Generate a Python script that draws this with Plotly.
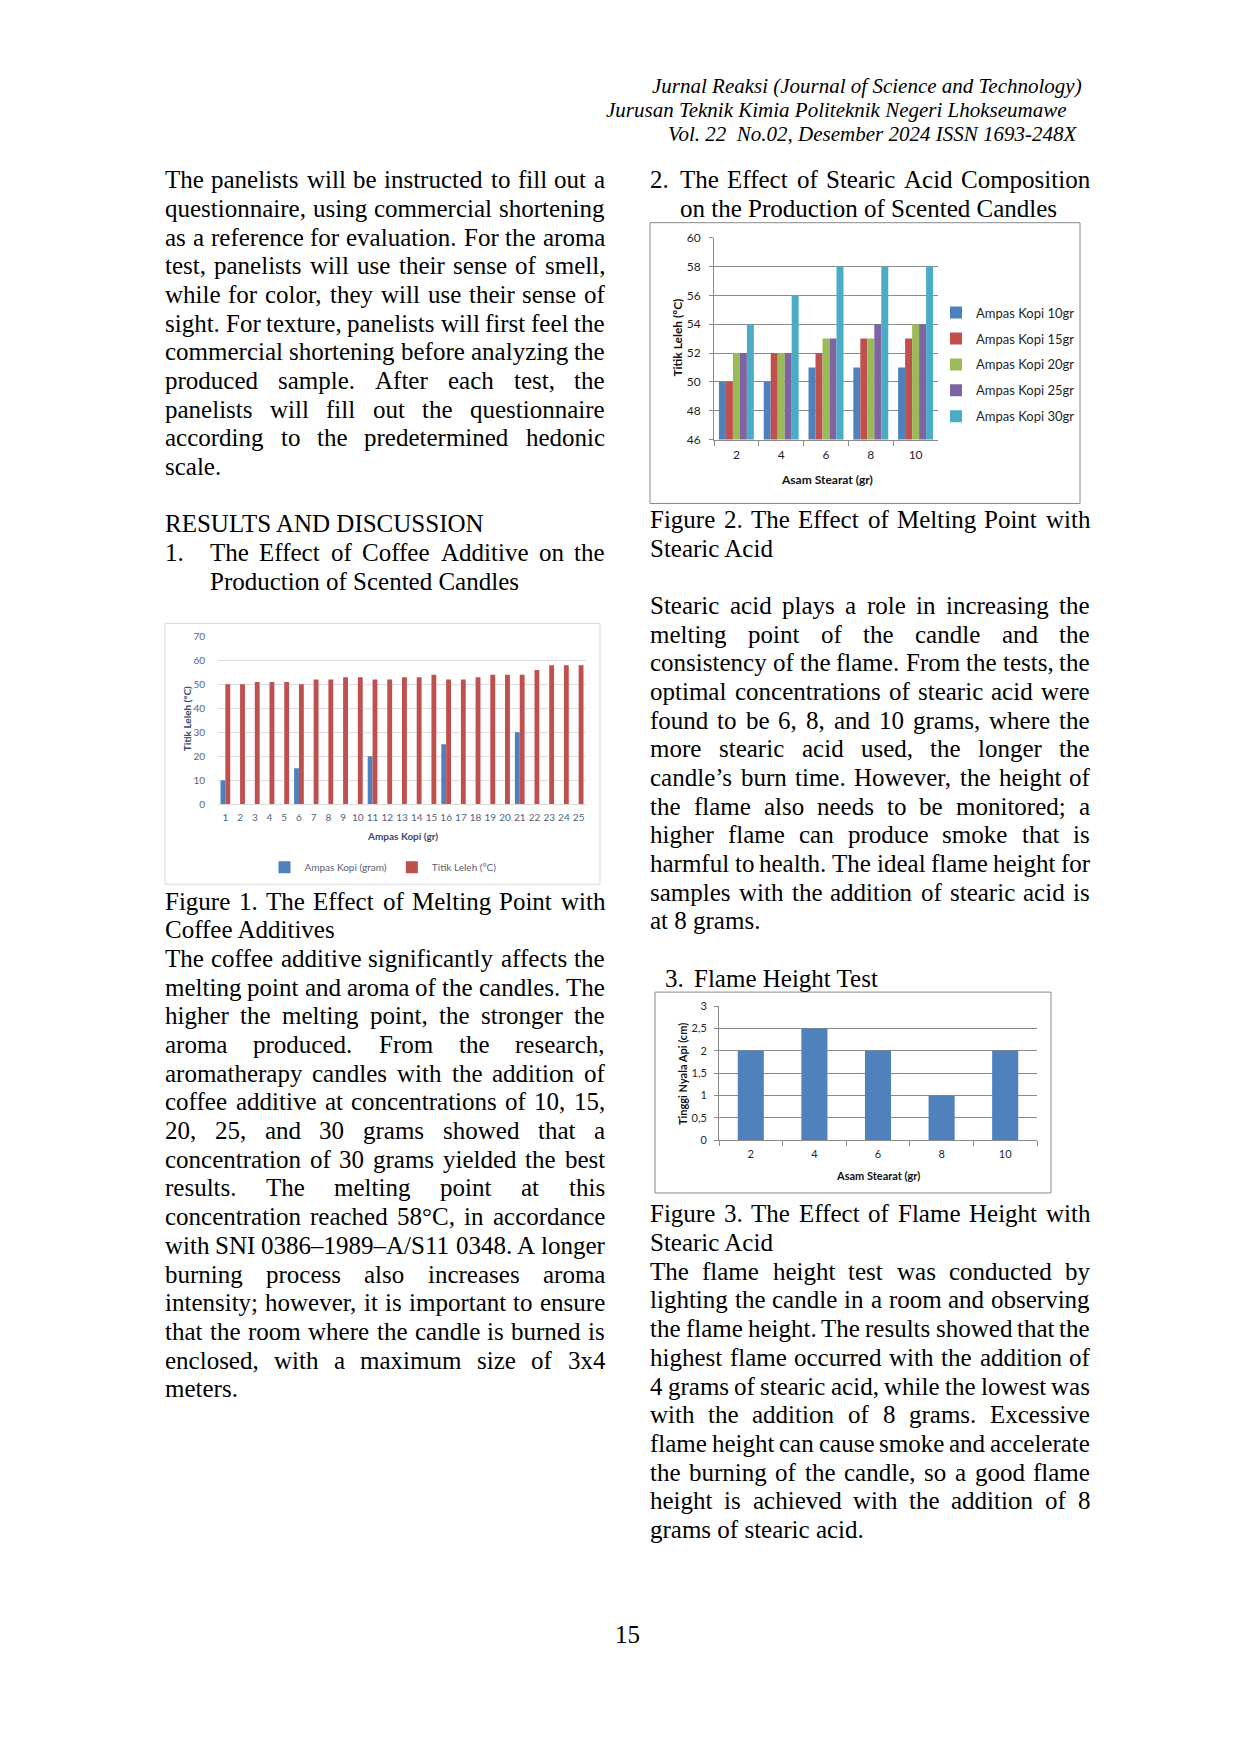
import plotly.graph_objects as go

W, H = 1241, 1753

# ---------------- data ----------------
fig1_categories = list(range(1, 26))
fig1_kopi_positions = [1, 6, 11, 16, 21]
fig1_kopi_gram = [10, 15, 20, 25, 30]
fig1_titik_leleh = [50, 50, 51, 51, 51, 50, 52, 52, 53, 53, 52, 52, 53, 53, 54,
                    52, 52, 53, 54, 54, 54, 56, 58, 58, 58]
fig1_yticks = [0, 10, 20, 30, 40, 50, 60, 70]

fig2_asam_stearat = [2, 4, 6, 8, 10]
fig2_names = ["Ampas Kopi 10gr", "Ampas Kopi 15gr", "Ampas Kopi 20gr",
              "Ampas Kopi 25gr", "Ampas Kopi 30gr"]
fig2_kopi_10 = [50, 50, 51, 51, 51]
fig2_kopi_15 = [50, 52, 52, 53, 53]
fig2_kopi_20 = [52, 52, 53, 53, 54]
fig2_kopi_25 = [52, 52, 53, 54, 54]
fig2_kopi_30 = [54, 56, 58, 58, 58]
fig2_yticks = [46, 48, 50, 52, 54, 56, 58, 60]

fig3_asam_stearat = [2, 4, 6, 8, 10]
fig3_tinggi_nyala = [2, 2.5, 2, 1, 2]
fig3_ytick_vals = [0, 0.5, 1, 1.5, 2, 2.5, 3]
fig3_ytick_text = ["0", "0,5", "1", "1,5", "2", "2,5", "3"]

# ---------------- text ----------------
header_lines = ["Jurnal Reaksi (Journal of Science and Technology)",
                "Jurusan Teknik Kimia Politeknik Negeri Lhokseumawe\u00a0",
                "Vol. 22\u00a0\u00a0No.02, Desember 2024 ISSN 1693-248X"]

left_block_a = [
    ("The panelists will be instructed to fill out a", True),
    ("questionnaire, using commercial shortening", True),
    ("as a reference for evaluation. For the aroma", True),
    ("test, panelists will use their sense of smell,", True),
    ("while for color, they will use their sense of", True),
    ("sight. For texture, panelists will first feel the", True),
    ("commercial shortening before analyzing the", True),
    ("produced sample. After each test, the", True),
    ("panelists will fill out the questionnaire", True),
    ("according to the predetermined hedonic", True),
    ("scale.", False),
    ("", False),
    ("RESULTS AND DISCUSSION", False),
]
heading1 = ["The Effect of Coffee Additive on the", "Production of Scented Candles"]

left_block_b = [
    ("Figure 1. The Effect of Melting Point with", True),
    ("Coffee Additives", False),
    ("The coffee additive significantly affects the", True),
    ("melting point and aroma of the candles. The", True),
    ("higher the melting point, the stronger the", True),
    ("aroma produced. From the research,", True),
    ("aromatherapy candles with the addition of", True),
    ("coffee additive at concentrations of 10, 15,", True),
    ("20, 25, and 30 grams showed that a", True),
    ("concentration of 30 grams yielded the best", True),
    ("results. The melting point at this", True),
    ("concentration reached 58°C, in accordance", True),
    ("with SNI 0386–1989–A/S11 0348. A longer", True),
    ("burning process also increases aroma", True),
    ("intensity; however, it is important to ensure", True),
    ("that the room where the candle is burned is", True),
    ("enclosed, with a maximum size of 3x4", True),
    ("meters.", False),
]

heading2 = ["The Effect of Stearic Acid Composition", "on the Production of Scented Candles"]

right_block_d = [
    ("Figure 2. The Effect of Melting Point with", True),
    ("Stearic Acid", False),
    ("", False),
    ("Stearic acid plays a role in increasing the", True),
    ("melting point of the candle and the", True),
    ("consistency of the flame. From the tests, the", True),
    ("optimal concentrations of stearic acid were", True),
    ("found to be 6, 8, and 10 grams, where the", True),
    ("more stearic acid used, the longer the", True),
    ("candle’s burn time. However, the height of", True),
    ("the flame also needs to be monitored; a", True),
    ("higher flame can produce smoke that is", True),
    ("harmful to health. The ideal flame height for", True),
    ("samples with the addition of stearic acid is", True),
    ("at 8 grams.", False),
]

heading3 = "Flame Height Test"

right_block_f = [
    ("Figure 3. The Effect of Flame Height with", True),
    ("Stearic Acid", False),
    ("The flame height test was conducted by", True),
    ("lighting the candle in a room and observing", True),
    ("the flame height. The results showed that the", True),
    ("highest flame occurred with the addition of", True),
    ("4 grams of stearic acid, while the lowest was", True),
    ("with the addition of 8 grams. Excessive", True),
    ("flame height can cause smoke and accelerate", True),
    ("the burning of the candle, so a good flame", True),
    ("height is achieved with the addition of 8", True),
    ("grams of stearic acid.", False),
]

# ---------------- helpers ----------------
def px(x):
    return (x - 8) / W


def py(y):
    return 1 - (1.00787 * y - 16.27) / H


TIMES = {' ': 250, '!': 333, '"': 408, '#': 500, '$': 500, '%': 833, '&': 778, "'": 180,
         '(': 333, ')': 333, '*': 500, '+': 564, ',': 250, '-': 333, '.': 250, '/': 278,
         ':': 278, ';': 278, '?': 444, '–': 500, '°': 400, '’': 333,
         'A': 722, 'B': 667, 'C': 667, 'D': 722, 'E': 611, 'F': 556, 'G': 722, 'H': 722,
         'I': 333, 'J': 389, 'K': 722, 'L': 611, 'M': 889, 'N': 722, 'O': 722, 'P': 556,
         'Q': 722, 'R': 667, 'S': 556, 'T': 611, 'U': 722, 'V': 722, 'W': 944, 'X': 722,
         'Y': 722, 'Z': 611,
         'a': 444, 'b': 500, 'c': 444, 'd': 500, 'e': 444, 'f': 333, 'g': 500, 'h': 500,
         'i': 278, 'j': 278, 'k': 500, 'l': 278, 'm': 778, 'n': 500, 'o': 500, 'p': 500,
         'q': 500, 'r': 333, 's': 389, 't': 278, 'u': 500, 'v': 500, 'w': 722, 'x': 500,
         'y': 500, 'z': 444}
for d in "0123456789":
    TIMES[d] = 500

FS = 25
SERIF = "Liberation Serif, Times New Roman, serif"
SANS = "Lato, Carlito, Calibri, sans-serif"
LINE = 28.7

annotations = []


def text_width(s, fs=FS):
    return sum(TIMES.get(c, 500) for c in s) * fs / 1000.0


def put(text, x, y, anchor="left", size=FS, family=SERIF, color="#000000", angle=0):
    annotations.append(dict(text=text, x=px(x), y=py(y), xref="paper", yref="paper",
                            xanchor=anchor, yanchor="middle", showarrow=False,
                            textangle=angle, borderpad=0, borderwidth=0,
                            font=dict(family=family, size=size, color=color)))


def put_line(text, x0, x1, y, justify):
    if not text:
        return
    words = text.split(" ")
    if not justify or len(words) < 2:
        put(text, x0, y)
        return
    widths = [text_width(w) for w in words]
    gap = (x1 - x0 - sum(widths)) / (len(words) - 1)
    x = x0
    for w, wd in zip(words, widths):
        put(w, x, y)
        x += wd + gap


def put_block(lines, x0, x1, y0):
    for i, (t, j) in enumerate(lines):
        put_line(t, x0, x1, y0 + i * LINE, j)


# page header
for i, (t, xr) in enumerate(zip(header_lines, [1082, 1072, 1077])):
    put("<i>" + t + "</i>", xr, 86 + i * 24, anchor="right", size=21)

# left column
LX0, LX1 = 165, 605
put_block(left_block_a, LX0, LX1, 180)
y_h1 = 180 + len(left_block_a) * LINE
put("1.", LX0, y_h1)
put_line(heading1[0], 210, LX1, y_h1, True)
put(heading1[1], 210, y_h1 + LINE)
put_block(left_block_b, LX0, LX1, 902)

# right column
RX0, RX1 = 650, 1090
put("2.", RX0, 180)
put_line(heading2[0], 680, RX1, 180, True)
put(heading2[1], 680, 180 + LINE)
put_block(right_block_d, RX0, RX1, 520)
put("3.", 665, 979)
put(heading3, 694, 979)
put_block(right_block_f, RX0, RX1, 1215)

# page number
put("15", 627, 1636, anchor="center")

# ---------------- charts ----------------
fig = go.Figure()

# Figure 1
fig.add_trace(go.Bar(x=fig1_kopi_positions, y=fig1_kopi_gram, name="Ampas Kopi (gram)",
                     marker=dict(color="#4F81BD", line=dict(width=0)), width=0.33, offset=-0.33,
                     xaxis="x", yaxis="y", legend="legend"))
fig.add_trace(go.Bar(x=fig1_categories, y=fig1_titik_leleh, name="Titik Leleh (°C)",
                     marker=dict(color="#C0504D", line=dict(width=0)), width=0.33, offset=0.0,
                     xaxis="x", yaxis="y", legend="legend"))

# Figure 2
fig2_colors = ["#4F81BD", "#C0504D", "#9BBB59", "#8064A2", "#4BACC6"]
fig2_series = [fig2_kopi_10, fig2_kopi_15, fig2_kopi_20, fig2_kopi_25, fig2_kopi_30]
bw2 = 0.156
for i, (nm, vals, col) in enumerate(zip(fig2_names, fig2_series, fig2_colors)):
    fig.add_trace(go.Bar(x=[str(v) for v in fig2_asam_stearat], y=vals, name=nm,
                         marker=dict(color=col, line=dict(width=0)),
                         width=bw2, offset=-2.5 * bw2 + i * bw2,
                         xaxis="x2", yaxis="y2", legend="legend2", legendgroup=nm))

# Figure 3
fig.add_trace(go.Bar(x=[str(v) for v in fig3_asam_stearat], y=fig3_tinggi_nyala,
                     name="Tinggi Nyala Api", marker=dict(color="#4F81BD", line=dict(width=0)),
                     width=0.41, showlegend=False, xaxis="x3", yaxis="y3"))

c1_tick = dict(family=SANS, size=10, color="#56617A")
c1_title = "#3C4A69"
c2_tick = dict(family=SANS, size=12, color="#1F1F1F")
c3_tick = dict(family=SANS, size=11, color="#1F1F1F")
grid_dark = "#8A8A8A"

# chart titles as text
put("<b>Titik Leleh (°C)</b>", 187, 720, anchor="center", size=10, family=SANS,
    color=c1_title, angle=-90)
put("<b>Ampas Kopi (gr)</b>", 402, 837, anchor="center", size=10, family=SANS, color=c1_title)
put("<b>Titik Leleh (ºC)</b>", 678, 338, anchor="center", size=12, family=SANS,
    color="#111111", angle=-90)
put("<b>Asam Stearat (gr)</b>", 827, 480, anchor="center", size=12, family=SANS, color="#111111")
put("<b>Tinggi Nyala Api (cm)</b>", 682, 1075, anchor="center", size=11, family=SANS,
    color="#111111", angle=-90)
put("<b>Asam Stearat (gr)</b>", 878, 1177, anchor="center", size=11, family=SANS, color="#111111")

shapes = [
    dict(type="rect", xref="paper", yref="paper", x0=px(165), x1=px(600), y0=py(885), y1=py(624),
         line=dict(color="#D9D9D9", width=1), fillcolor="rgba(0,0,0,0)", layer="below"),
    dict(type="rect", xref="paper", yref="paper", x0=px(650), x1=px(1080), y0=py(504), y1=py(223),
         line=dict(color="#8A8A8A", width=1), fillcolor="rgba(0,0,0,0)", layer="below"),
    dict(type="rect", xref="paper", yref="paper", x0=px(655), x1=px(1051), y0=py(1194), y1=py(993),
         line=dict(color="#8A8A8A", width=1), fillcolor="rgba(0,0,0,0)", layer="below"),
]

fig.update_layout(
    width=W, height=H, margin=dict(l=0, r=0, t=0, b=0),
    paper_bgcolor="white", plot_bgcolor="white",
    barmode="overlay", showlegend=True,
    annotations=annotations, shapes=shapes,
    xaxis=dict(domain=[px(218), px(586)], range=[0.5, 25.5], tickmode="array",
               tickvals=fig1_categories, showgrid=False, zeroline=False, showline=True,
               linecolor="#D9D9D9", ticks="", tickfont=c1_tick, anchor="y",
               ticklabelstandoff=4),
    yaxis=dict(domain=[py(805), py(637)], range=[0, 70], tickmode="array", tickvals=fig1_yticks,
               gridcolor="#DCDCE4", zeroline=False, showline=False, ticks="",
               tickfont=c1_tick, anchor="x", ticklabelstandoff=12),
    xaxis2=dict(domain=[px(714), px(938)], type="category", range=[-0.5, 4.5],
                showgrid=False, zeroline=False, showline=True, linecolor=grid_dark,
                ticks="outside", tickson="boundaries", ticklen=5, tickcolor=grid_dark,
                tickfont=c2_tick, anchor="y2", ticklabelstandoff=4),
    yaxis2=dict(domain=[py(440), py(238)], range=[46, 60], tickmode="array", tickvals=fig2_yticks,
                gridcolor=grid_dark, zeroline=False, showline=True, linecolor=grid_dark,
                ticks="outside", ticklen=4, tickcolor=grid_dark, tickfont=c2_tick,
                anchor="x2", ticklabelstandoff=6),
    xaxis3=dict(domain=[px(719), px(1037)], type="category", range=[-0.5, 4.5],
                showgrid=False, zeroline=False, showline=True, linecolor=grid_dark,
                ticks="outside", tickson="boundaries", ticklen=5, tickcolor=grid_dark,
                tickfont=c3_tick, anchor="y3", ticklabelstandoff=4),
    yaxis3=dict(domain=[py(1141), py(1007)], range=[0, 3], tickmode="array",
                tickvals=fig3_ytick_vals, ticktext=fig3_ytick_text,
                gridcolor=grid_dark, zeroline=False, showline=True, linecolor=grid_dark,
                ticks="outside", ticklen=4, tickcolor=grid_dark, tickfont=c3_tick,
                anchor="x3", ticklabelstandoff=5),
    legend=dict(orientation="h", x=px(383), xanchor="center", y=py(868), yanchor="middle",
                font=dict(family=SANS, size=10, color="#56617A"), itemwidth=30,
                bgcolor="rgba(0,0,0,0)"),
    legend2=dict(orientation="v", x=px(936), xanchor="left", y=py(298), yanchor="top",
                 font=dict(family=SANS, size=13, color="#1F1F1F"), itemwidth=30,
                 tracegroupgap=6, bgcolor="rgba(0,0,0,0)"),
)

fig.write_html("out.html")
